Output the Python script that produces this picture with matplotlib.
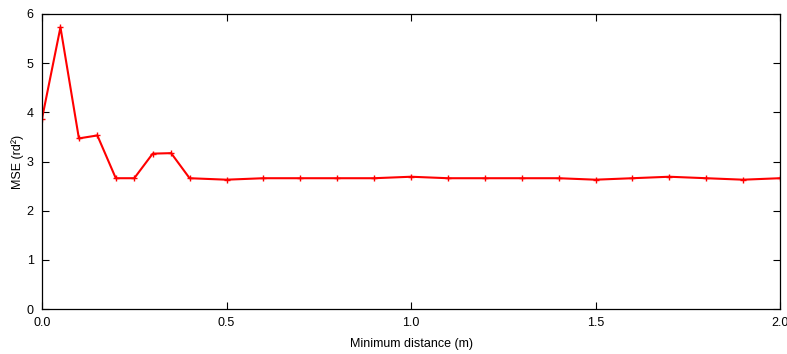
import matplotlib
matplotlib.use("Agg")
import matplotlib.pyplot as plt

plt.rcParams['font.family'] = ['Liberation Sans', 'DejaVu Sans']
plt.rcParams['font.size'] = 9

min_dist = [0.0, 0.05, 0.1, 0.15, 0.2, 0.25, 0.3, 0.35, 0.4,
            0.5, 0.6, 0.7, 0.8, 0.9, 1.0, 1.1, 1.2, 1.3, 1.4,
            1.5, 1.6, 1.7, 1.8, 1.9, 2.0]
mse = [3.87, 5.73, 3.47, 3.53, 2.66, 2.66, 3.16, 3.17, 2.66,
       2.63, 2.66, 2.66, 2.66, 2.66, 2.69, 2.66, 2.66, 2.66, 2.66,
       2.63, 2.66, 2.69, 2.66, 2.63, 2.66]
xticks = [0.0, 0.5, 1.0, 1.5, 2.0]
yticks = [0, 1, 2, 3, 4, 5, 6]

W, H = 787, 354
fig = plt.figure(figsize=(W / 100, H / 100), dpi=100)
ax = fig.add_axes([42 / W, 1 - 309 / H, (780 - 42) / W, (309 - 14) / H])

ax.plot(min_dist, mse, color='#ff0000', lw=1.5, marker='+', ms=5, mew=1)

ax.set_xlim(0, 2)
ax.set_ylim(0, 6)
ax.set_xticks(xticks)
ax.set_xticklabels(['%.1f' % t for t in xticks])
ax.set_yticks(yticks)
ax.tick_params(direction='in', top=True, right=True, length=5, width=0.8, pad=6)
for s in ax.spines.values():
    s.set_linewidth(0.9)

ax.set_xlabel('Minimum distance (m)', labelpad=6)
ax.set_ylabel('MSE (rd²)', labelpad=2)

fig.savefig('out.png', dpi=100)
